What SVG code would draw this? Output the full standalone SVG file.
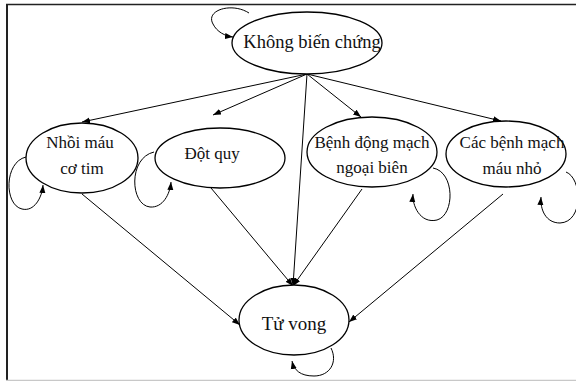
<svg xmlns="http://www.w3.org/2000/svg" width="576" height="381" viewBox="0 0 576 381">
<style>
.n ellipse{fill:#fff;stroke:#000;stroke-width:1.3}
.n text{font-family:"Liberation Serif","Times New Roman",serif;font-size:17px;fill:#111;text-anchor:middle}
.c path,.c line{fill:none;stroke:#000;stroke-width:1}
</style>
<defs>
<marker id="a" markerUnits="userSpaceOnUse" markerWidth="9" markerHeight="7" refX="8" refY="3.5" orient="auto">
<path d="M0,0.5 L8,3.5 L0,6.5 Z" fill="#000"/>
</marker>
</defs>
<rect x="0" y="0" width="576" height="381" fill="#fff"/>
<g id="frame">
<line x1="6" y1="4.5" x2="576" y2="4.5" stroke="#222" stroke-width="1.5"/>
<line x1="7" y1="4" x2="7" y2="380" stroke="#222" stroke-width="2"/>
<line x1="6" y1="380.5" x2="576" y2="380.5" stroke="#c8c8c8" stroke-width="1.5"/>
</g>
<g class="c" id="connectors">
<line x1="307" y1="74" x2="82" y2="122" marker-end="url(#a)"/>
<line x1="307" y1="74" x2="213" y2="115" marker-end="url(#a)"/>
<line x1="307" y1="74" x2="361" y2="117" marker-end="url(#a)"/>
<line x1="307" y1="74" x2="501" y2="121" marker-end="url(#a)"/>
<line x1="307" y1="74" x2="293" y2="286" marker-end="url(#a)"/>
<line x1="82" y1="194" x2="240" y2="325" marker-end="url(#a)"/>
<line x1="211" y1="188" x2="293" y2="286" marker-end="url(#a)"/>
<line x1="362" y1="189" x2="293" y2="286" marker-end="url(#a)"/>
<line x1="503" y1="194" x2="349" y2="322" marker-end="url(#a)"/>
<path d="M249,13 C232,2 205,10 213,24 C217,32 225,36 233,37" marker-end="url(#a)"/>
<path d="M26,157 C4,162 4,205 22,209 C34,212 42,198 43,185" marker-end="url(#a)"/>
<path d="M154,152 C128,158 130,205 150,207 C163,208 170,194 171,182" marker-end="url(#a)"/>
<path d="M433,168 C455,172 455,215 437,220 C420,224 412,205 413,194" marker-end="url(#a)"/>
<path d="M566,172 C582,178 584,222 560,223 C546,223 540,210 541,197" marker-end="url(#a)"/>
<path d="M331,348 C338,362 330,376 314,376 C300,376 294,370 292,361" marker-end="url(#a)"/>
</g>
<g class="n" id="khong-bien-chung">
<ellipse cx="307" cy="43" rx="75" ry="31"/>
<text x="312" y="48" style="font-size:18.5px">Không biến chứng</text>
</g>
<g class="n" id="nhoi-mau-co-tim">
<ellipse cx="82" cy="158" rx="56" ry="35"/>
<text x="80" y="148">Nhồi máu</text>
<text x="82" y="174">cơ tim</text>
</g>
<g class="n" id="dot-quy">
<ellipse cx="220" cy="158" rx="65" ry="30"/>
<text x="212" y="159">Đột quy</text>
</g>
<g class="n" id="benh-dong-mach-ngoai-bien">
<ellipse cx="372" cy="152" rx="65" ry="35"/>
<text x="372" y="148">Bệnh động mạch</text>
<text x="372" y="173">ngoại biên</text>
</g>
<g class="n" id="cac-benh-mach-mau-nho">
<ellipse cx="506" cy="154" rx="60" ry="33"/>
<text x="512" y="148">Các bệnh mạch</text>
<text x="512" y="174">máu nhỏ</text>
</g>
<g class="n" id="tu-vong">
<ellipse cx="294" cy="320" rx="55" ry="35"/>
<text x="294" y="330" style="font-size:19px">Tử vong</text>
</g>
</svg>
